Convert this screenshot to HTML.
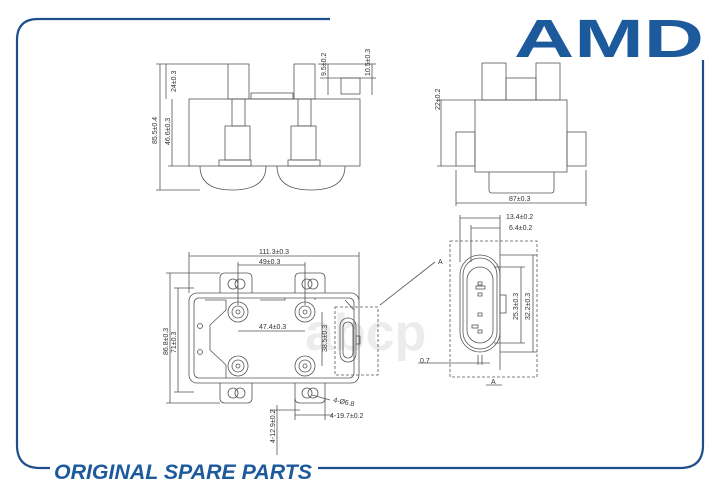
<!DOCTYPE html>
<html><head><meta charset="utf-8"><style>
html,body{margin:0;padding:0;background:#fff;}
svg{display:block;}
text{font-family:"Liberation Sans",sans-serif;fill:#333;}
</style></head><body>
<svg width="720" height="490" viewBox="0 0 720 490" xmlns="http://www.w3.org/2000/svg">
<!-- frame -->
<g fill="none" stroke="#1d4f8c" stroke-width="2.2">
<path d="M330 19 H38 Q17 19 17 40 V445 Q17 468 40 468 H50"/>
<path d="M703 60 V445 Q703 468 680 468 H318"/>
</g>
<!-- logo -->
<text x="514" y="57" font-size="54" font-weight="bold" style="fill:#1d5a9c" textLength="190" lengthAdjust="spacingAndGlyphs">AMD</text>
<text x="54" y="479" font-size="21" font-weight="bold" font-style="italic" style="fill:#1d5a9c" textLength="258" lengthAdjust="spacingAndGlyphs">ORIGINAL SPARE PARTS</text>
<!-- watermark -->
<text x="305" y="350" font-size="52" font-weight="bold" style="fill:#ececec">abcp</text>

<g fill="none" stroke="#555" stroke-width="0.8">
<!-- front view -->
<rect x="189" y="99" width="171" height="67"/>
<rect x="228" y="64" width="21" height="35"/><rect x="294" y="64" width="21" height="35"/>
<rect x="251" y="93" width="42" height="6"/>
<rect x="232" y="99" width="13" height="27"/><rect x="298" y="99" width="13" height="27"/>
<rect x="225" y="126" width="25" height="34"/><rect x="291" y="126" width="25" height="34"/>
<rect x="219" y="160" width="32" height="6"/><rect x="288" y="160" width="32" height="6"/>
<path d="M200 166 Q200 190 232 190 Q266 190 266 166"/>
<path d="M277 166 Q277 190 311 190 Q345 190 345 166"/>
<rect x="341" y="78" width="19" height="16"/>
<!-- front dims -->
<path d="M160 64 V190 M156 64 H228 M156 190 H200 M166 64 V99 M172 99 V166 M168 166 H190 M328 64 V95 M372 64 V95 M320 78 H376 M318 64 H376"/>
<!-- side view -->
<rect x="482" y="63" width="24" height="37"/><rect x="536" y="63" width="24" height="37"/>
<rect x="506" y="78" width="30" height="22"/>
<rect x="475" y="100" width="92" height="72"/>
<rect x="456" y="132" width="19" height="34"/><rect x="567" y="132" width="19" height="34"/>
<path d="M489 172 V190 Q489 193 492 193 H551 Q554 193 554 190 V172"/>
<path d="M441 100 V166 M437 100 H475 M437 166 H456 M456 203 H586 M456 170 V206 M586 170 V206"/>
<!-- bottom view -->
<rect x="189" y="293" width="170" height="90" rx="8"/>
<rect x="194" y="298" width="160" height="80" rx="5"/>
<path d="M205 300 H226 V310 L210 325 V350 L226 365 V378 M260 300 H285 V298 M315 298 V300 M345 300 L354 310"/>
<path d="M220 293 V278 Q220 273 225 273 H247 Q252 273 252 278 V293 M295 293 V278 Q295 273 300 273 H320 Q325 273 325 278 V293"/>
<path d="M220 383 V398 Q220 403 225 403 H247 Q252 403 252 398 V383 M295 383 V398 Q295 403 300 403 H320 Q325 403 325 398 V383"/>
<circle cx="233" cy="284" r="5"/><circle cx="240" cy="284" r="5"/><circle cx="307" cy="284" r="5"/><circle cx="313" cy="284" r="5"/>
<circle cx="233" cy="393" r="5"/><circle cx="240" cy="393" r="5"/><circle cx="307" cy="393" r="5"/><circle cx="313" cy="393" r="5"/>
<circle cx="238" cy="312" r="10"/><circle cx="238" cy="312" r="6"/><circle cx="238" cy="312" r="2"/>
<circle cx="305" cy="312" r="10"/><circle cx="305" cy="312" r="6"/><circle cx="305" cy="312" r="2"/>
<circle cx="238" cy="366" r="10"/><circle cx="238" cy="366" r="6"/><circle cx="238" cy="366" r="2"/>
<circle cx="305" cy="366" r="10"/><circle cx="305" cy="366" r="6"/><circle cx="305" cy="366" r="2"/>
<circle cx="200" cy="326" r="2.5"/><circle cx="200" cy="352" r="2.5"/>
<rect x="340" y="318" width="16" height="44" rx="8"/><rect x="343" y="322" width="10" height="36" rx="5"/>
<rect x="356" y="336" width="4" height="8"/>
<rect x="335" y="307" width="43" height="68" stroke-dasharray="3 2"/>
<!-- bottom dims -->
<path d="M189 256 H359 M189 252 V293 M359 252 V300 M238 265 H305 M238 262 V305 M305 262 V305 M238 331 H305 M322 312 V366 M170 273 V403 M166 273 H220 M166 403 H220 M178 288 V392 M174 288 H194 M174 392 H194 M295 415 H332 M295 398 V420 M325 398 V420 M277 405 V455 M270 410 H300 M380 305 L435 262"/>
<path d="M312 395 L330 400"/>
<!-- connector detail -->
<rect x="460" y="255" width="40" height="97" rx="20"/>
<rect x="463" y="258" width="34" height="91" rx="17"/>
<rect x="467" y="267" width="26" height="76" rx="13"/>
<rect x="500" y="295" width="6" height="18"/>
<rect x="478" y="282" width="4" height="3"/><rect x="476" y="286" width="9" height="3"/><rect x="478" y="293" width="4" height="3"/>
<rect x="478" y="313" width="4" height="3"/><rect x="478" y="330" width="4" height="3"/><rect x="472" y="325" width="6" height="3"/>
<rect x="450" y="241" width="87" height="136" stroke-dasharray="3 2"/>
<path d="M460 218 H500 M460 215 V262 M500 215 V370 M471 228 H500 M471 225 V262 M521 267 V343 M533 255 V352 M500 255 H537 M494 267 H525 M494 343 H525 M500 352 H537 M418 363 H490 M478 355 V365 M482 355 V365 M486 385 H502"/>
</g>
<g font-size="7">
<text x="0" y="0" transform="translate(176,92) rotate(-90)">24±0.3</text>
<text x="0" y="0" transform="translate(157,144) rotate(-90)">85.5±0.4</text>
<text x="0" y="0" transform="translate(170,145) rotate(-90)">46.6±0.3</text>
<text x="0" y="0" transform="translate(326,76) rotate(-90)">9.5±0.2</text>
<text x="0" y="0" transform="translate(370,76) rotate(-90)">10.5±0.3</text>
<text x="0" y="0" transform="translate(440,110) rotate(-90)">22±0.2</text>
<text x="509" y="201">87±0.3</text>
<text x="259" y="254">111.3±0.3</text>
<text x="259" y="264">49±0.3</text>
<text x="259" y="329">47.4±0.3</text>
<text x="0" y="0" transform="translate(327,352) rotate(-90)">38.5±0.3</text>
<text x="0" y="0" transform="translate(168,355) rotate(-90)">86.8±0.3</text>
<text x="0" y="0" transform="translate(176,353) rotate(-90)">71±0.3</text>
<text x="0" y="0" transform="translate(333,402) rotate(12)">4-Ø6.8</text>
<text x="330" y="418">4-19.7±0.2</text>
<text x="0" y="0" transform="translate(275,443) rotate(-90)">4-12.9±0.2</text>
<text x="506" y="219">13.4±0.2</text>
<text x="509" y="230">6.4±0.2</text>
<text x="0" y="0" transform="translate(518,320) rotate(-90)">25.3±0.3</text>
<text x="0" y="0" transform="translate(530,320) rotate(-90)">32.2±0.3</text>
<text x="438" y="264">A</text>
<text x="420" y="363">0.7</text>
<text x="491" y="384">A</text>
</g>
</svg>
</body></html>
